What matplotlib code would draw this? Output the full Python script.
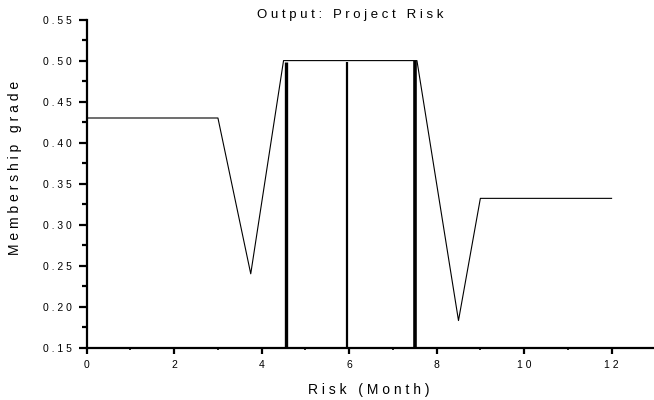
import numpy as np
import matplotlib.pyplot as plt
from matplotlib.ticker import MultipleLocator

# output membership function (piecewise linear)
risk_x = [0, 3.0, 3.75, 4.5, 7.55, 8.5, 9.0, 12.0]
grade_y = [0.43, 0.43, 0.24, 0.50, 0.50, 0.183, 0.332, 0.332]

# vertical marker lines: position, height, width
bar_x = [4.56, 5.96, 7.5]
bar_top = [0.498, 0.498, 0.50]
bar_lw = [2.4, 1.6, 2.6]

xticks = [0, 2, 4, 6, 8, 10, 12]
yticks = [0.15, 0.20, 0.25, 0.30, 0.35, 0.40, 0.45, 0.50, 0.55]


def spaced(s):
    # the original chart uses very loose letter spacing
    return ' '.join(s)


plt.rcParams['font.family'] = ['Liberation Sans', 'DejaVu Sans']

fig = plt.figure(figsize=(6.54, 4.0), dpi=100)
ax = fig.add_axes([0.1326, 0.131, 0.8674, 0.820])

ax.plot(risk_x, grade_y, color='black', lw=0.8)
for x, top, lw in zip(bar_x, bar_top, bar_lw):
    ax.vlines(x, 0.15, top, color='black', lw=lw)

ax.set_xlim(0, 12.97)
ax.set_ylim(0.15, 0.55)

ax.spines['top'].set_visible(False)
ax.spines['right'].set_visible(False)
ax.spines['left'].set_linewidth(1.6)
ax.spines['bottom'].set_linewidth(1.6)

ax.set_xticks(xticks)
ax.set_xticklabels([spaced(str(t)) for t in xticks])
ax.set_yticks(yticks)
ax.set_yticklabels([spaced('%.2f' % t) for t in yticks])
ax.xaxis.set_minor_locator(MultipleLocator(1))
ax.yaxis.set_minor_locator(MultipleLocator(0.025))

ax.tick_params(axis='y', which='major', direction='out', length=6, width=1.6,
               labelsize=7.5, pad=5)
ax.tick_params(axis='y', which='minor', direction='out', length=3.5, width=1.6)
ax.tick_params(axis='x', which='major', direction='out', length=4, width=1.6,
               labelsize=7.5, pad=5)
ax.tick_params(axis='x', which='minor', direction='out', length=1.5, width=1.2)

fig.text(350 / 654, 1 - 15 / 400, spaced('Output:') + '   ' + spaced('Project') + '   ' + spaced('Risk'),
         ha='center', va='center', fontsize=9.5)
fig.text(369 / 654, 1 - 390 / 400, spaced('Risk') + '   ' + spaced('(Month)'),
         ha='center', va='center', fontsize=10)
fig.text(15 / 654, 1 - 168 / 400, spaced('Membership') + '   ' + spaced('grade'),
         ha='center', va='center', fontsize=10, rotation=90)

fig.savefig('out.png', dpi=100)
